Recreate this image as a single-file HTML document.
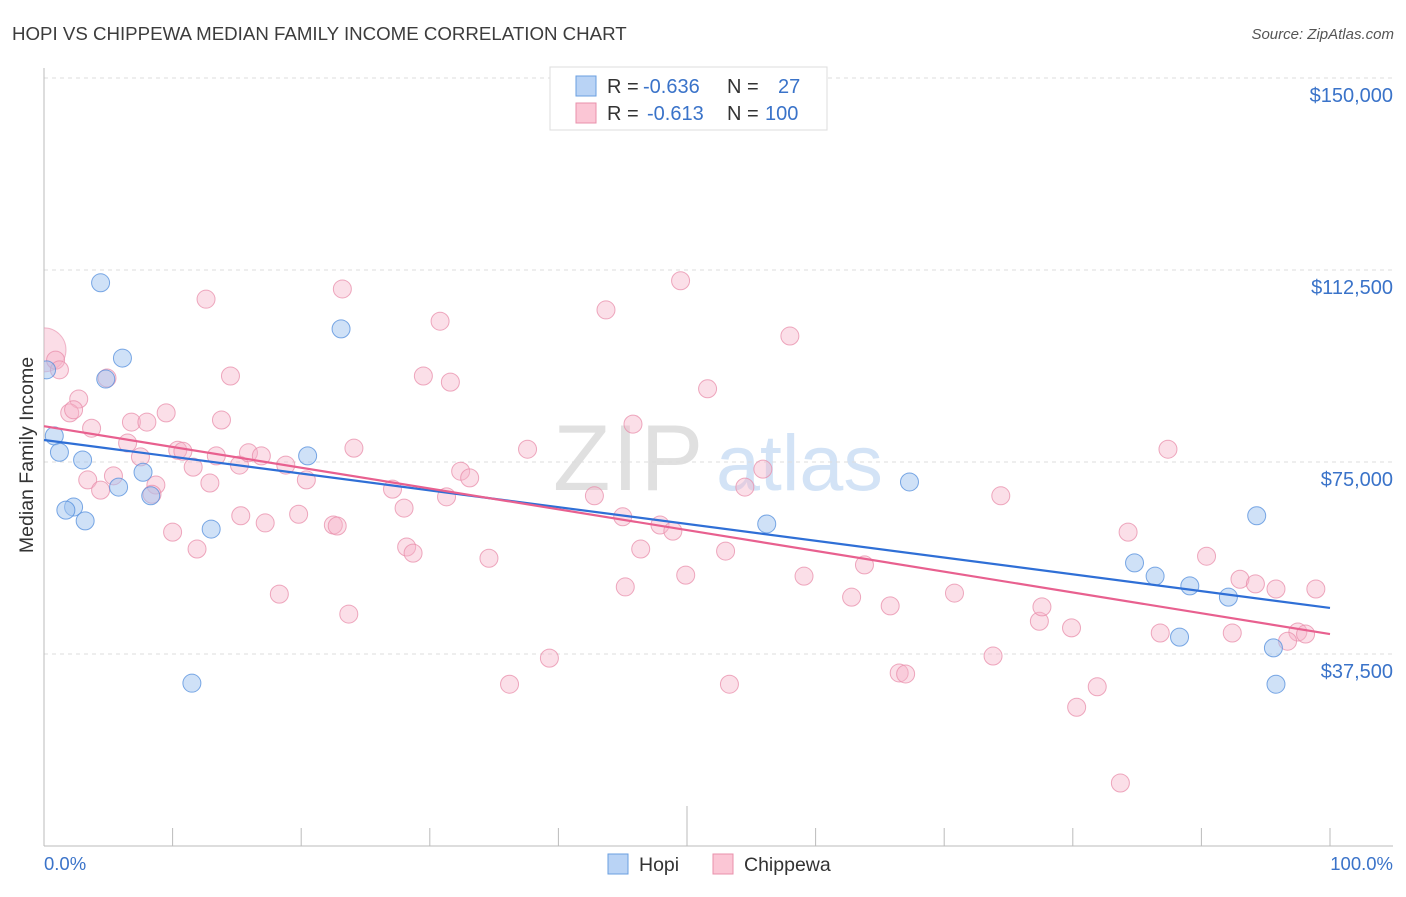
<!DOCTYPE html>
<html><head><meta charset="utf-8"><style>
body{margin:0;background:#fff;font-family:"Liberation Sans",sans-serif;}
svg text{font-family:"Liberation Sans",sans-serif;}
</style></head><body>
<svg id="chart" width="1406" height="892">
<defs><clipPath id="plotclip"><rect x="44" y="60" width="1360" height="786"/></clipPath></defs>
<text x="12" y="40" font-size="18.7" fill="#3c3c3c">HOPI VS CHIPPEWA MEDIAN FAMILY INCOME CORRELATION CHART</text>
<text x="1394" y="39" font-size="15" fill="#555" font-style="italic" text-anchor="end">Source: ZipAtlas.com</text>
<g><text x="553" y="490" font-size="94" fill="#e0e0e0" font-family="Liberation Serif" letter-spacing="2">ZIP</text><text x="716" y="490" font-size="79" fill="#d3e3f6">atlas</text></g>
<g id="grid"></g>
<line x1="44" y1="68" x2="44" y2="846" stroke="#bbb"/>
<line x1="44" y1="846" x2="1393" y2="846" stroke="#bbb"/>
<text x="33" y="455" font-size="19.5" fill="#333" text-anchor="middle" transform="rotate(-90 33 455)">Median Family Income</text>
<text x="44" y="870" font-size="18.5" fill="#3a73c9">0.0%</text>
<text x="1393" y="870" font-size="18.5" fill="#3a73c9" text-anchor="end">100.0%</text>
<g id="pts" clip-path="url(#plotclip)"></g><g id="lines"></g>
<g>
<rect x="550" y="67" width="277" height="63" fill="#fff" stroke="#ddd"/>
<rect x="576" y="76" width="20" height="20" fill="#b9d3f5" stroke="#6a9fe0"/>
<rect x="576" y="103" width="20" height="20" fill="#fbc6d5" stroke="#e890ab"/>
<text x="607" y="93" font-size="20" fill="#333">R = <tspan x="643" fill="#3a73c9">-0.636</tspan><tspan x="727">N = </tspan><tspan x="778" fill="#3a73c9">27</tspan></text>
<text x="607" y="120" font-size="20" fill="#333">R = <tspan x="647" fill="#3a73c9">-0.613</tspan><tspan x="727">N = </tspan><tspan x="765" fill="#3a73c9">100</tspan></text>
</g>
<g>
<rect x="608" y="854" width="20" height="20" fill="#b9d3f5" stroke="#6a9fe0"/>
<text x="639" y="871" font-size="19.5" fill="#333">Hopi</text>
<rect x="713" y="854" width="20" height="20" fill="#fbc6d5" stroke="#e890ab"/>
<text x="744" y="871" font-size="19.5" fill="#333">Chippewa</text>
</g>
</svg>
<script>
const yTicks=[37500,75000,112500,150000];
const yTickLabels=["$37,500","$75,000","$112,500","$150,000"];
const hopiX=[0.2,0.8,1.2,4.4,6.1,4.8,3.0,2.3,1.7,3.2,7.7,5.8,8.3,13.0,11.5,20.5,23.1,67.3,56.2,84.8,86.4,89.1,92.1,94.3,88.3,95.6,95.8];
const hopiY=[93.0,80.1,76.9,110.0,95.3,91.2,75.4,66.2,65.6,63.5,73.0,70.1,68.4,61.9,31.8,76.2,101.0,71.1,62.9,55.3,52.7,50.8,48.6,64.5,40.8,38.7,31.6];
const chipX=[0,0.9,1.2,2.7,2.0,2.3,3.7,4.9,6.5,6.8,8.0,9.5,7.5,10.4,10.8,11.6,12.9,13.8,14.5,12.6,13.4,15.2,15.9,16.9,18.8,20.4,17.2,15.3,11.9,10.0,8.7,8.4,3.4,4.4,5.4,18.3,19.8,22.5,22.8,23.7,23.2,24.1,27.1,28.0,28.2,28.7,29.5,30.8,31.6,31.3,32.4,33.1,34.6,36.2,37.6,39.3,42.8,43.7,45.0,45.2,45.8,46.4,47.9,48.9,49.9,49.5,51.6,53.0,53.3,54.5,55.9,58.0,59.1,62.8,63.8,65.8,66.5,67.0,70.8,73.8,74.4,77.4,77.6,79.9,80.3,81.9,84.3,86.8,87.4,83.7,90.4,92.4,93.0,94.2,95.8,98.9,97.5,98.1,96.7];
const chipY=[96.9,94.9,93.0,87.3,84.6,85.2,81.6,91.4,78.7,82.8,82.8,84.6,76.0,77.3,77.1,74.0,70.9,83.2,91.8,106.8,76.2,74.4,76.8,76.2,74.4,71.5,63.1,64.5,58.0,61.3,70.5,68.7,71.5,69.5,72.3,49.2,64.8,62.7,62.5,45.3,108.8,77.7,69.7,66.0,58.4,57.2,91.8,102.5,90.6,68.2,73.2,71.9,56.2,31.6,77.5,36.7,68.4,104.7,64.3,50.6,82.4,58.0,62.7,61.5,52.9,110.4,89.3,57.6,31.6,70.1,73.6,99.6,52.7,48.6,54.9,46.9,33.8,33.6,49.4,37.1,68.4,43.9,46.7,42.6,27.1,31.1,61.3,41.6,77.5,12.3,56.6,41.6,52.1,51.2,50.2,50.2,41.8,41.4,40.0];
const hopiTrend=[79.3,46.5];
const chipTrend=[82.0,41.4];
const NS='http://www.w3.org/2000/svg';
const X0=44,X1=1330,Y0=846,PXPER=192/37500;
function sx(p){return X0+(X1-X0)*p/100;}
function sy(v){return Y0-v*PXPER;}
function mk(tag,attrs,parent){const e=document.createElementNS(NS,tag);for(const k in attrs)e.setAttribute(k,attrs[k]);parent.appendChild(e);return e;}
const grid=document.getElementById('grid');
yTicks.forEach((t,i)=>{
 const l=mk('line',{x1:44,x2:1393,y1:sy(t),y2:sy(t),stroke:'#ddd','stroke-dasharray':'4,4'},grid);
 
 
 const tx=mk('text',{x:1393,y:sy(t)+24,'font-size':20,fill:'#3a73c9','text-anchor':'end'},grid);
 tx.textContent=yTickLabels[i];
 
 
});
for(let i=1;i<=10;i++){
 const x=sx(i*10);
 const l=mk('line',{x1:x,x2:x,y1:i==5?806:828,y2:846,stroke:'#bbb'},grid);
 
 
}
const pts=document.getElementById('pts');
const big=mk('circle',{cx:sx(chipX[0]),cy:sy(chipY[0]*1000),r:22,fill:'rgba(246,170,195,0.4)',stroke:'rgba(232,140,170,0.6)'},pts);


for(let i=1;i<chipX.length;i++){
 const c=mk('circle',{cx:sx(chipX[i]),cy:sy(chipY[i]*1000),r:9,fill:'rgba(246,178,200,0.42)',stroke:'rgba(232,140,170,0.75)'},pts);
 
 
}
for(let i=0;i<hopiX.length;i++){
 const c=mk('circle',{cx:sx(hopiX[i]),cy:sy(hopiY[i]*1000),r:9,fill:'rgba(160,196,240,0.5)',stroke:'rgba(80,140,220,0.75)'},pts);
 
 
}
const lines=document.getElementById('lines');
const hl=mk('line',{x1:sx(0),x2:sx(100),y1:sy(hopiTrend[0]*1000),y2:sy(hopiTrend[1]*1000),stroke:'#2f6fd6','stroke-width':2.2},lines);


const cl=mk('line',{x1:sx(0),x2:sx(100),y1:sy(chipTrend[0]*1000),y2:sy(chipTrend[1]*1000),stroke:'#e8608f','stroke-width':2.2},lines);


</script>
</body></html>
